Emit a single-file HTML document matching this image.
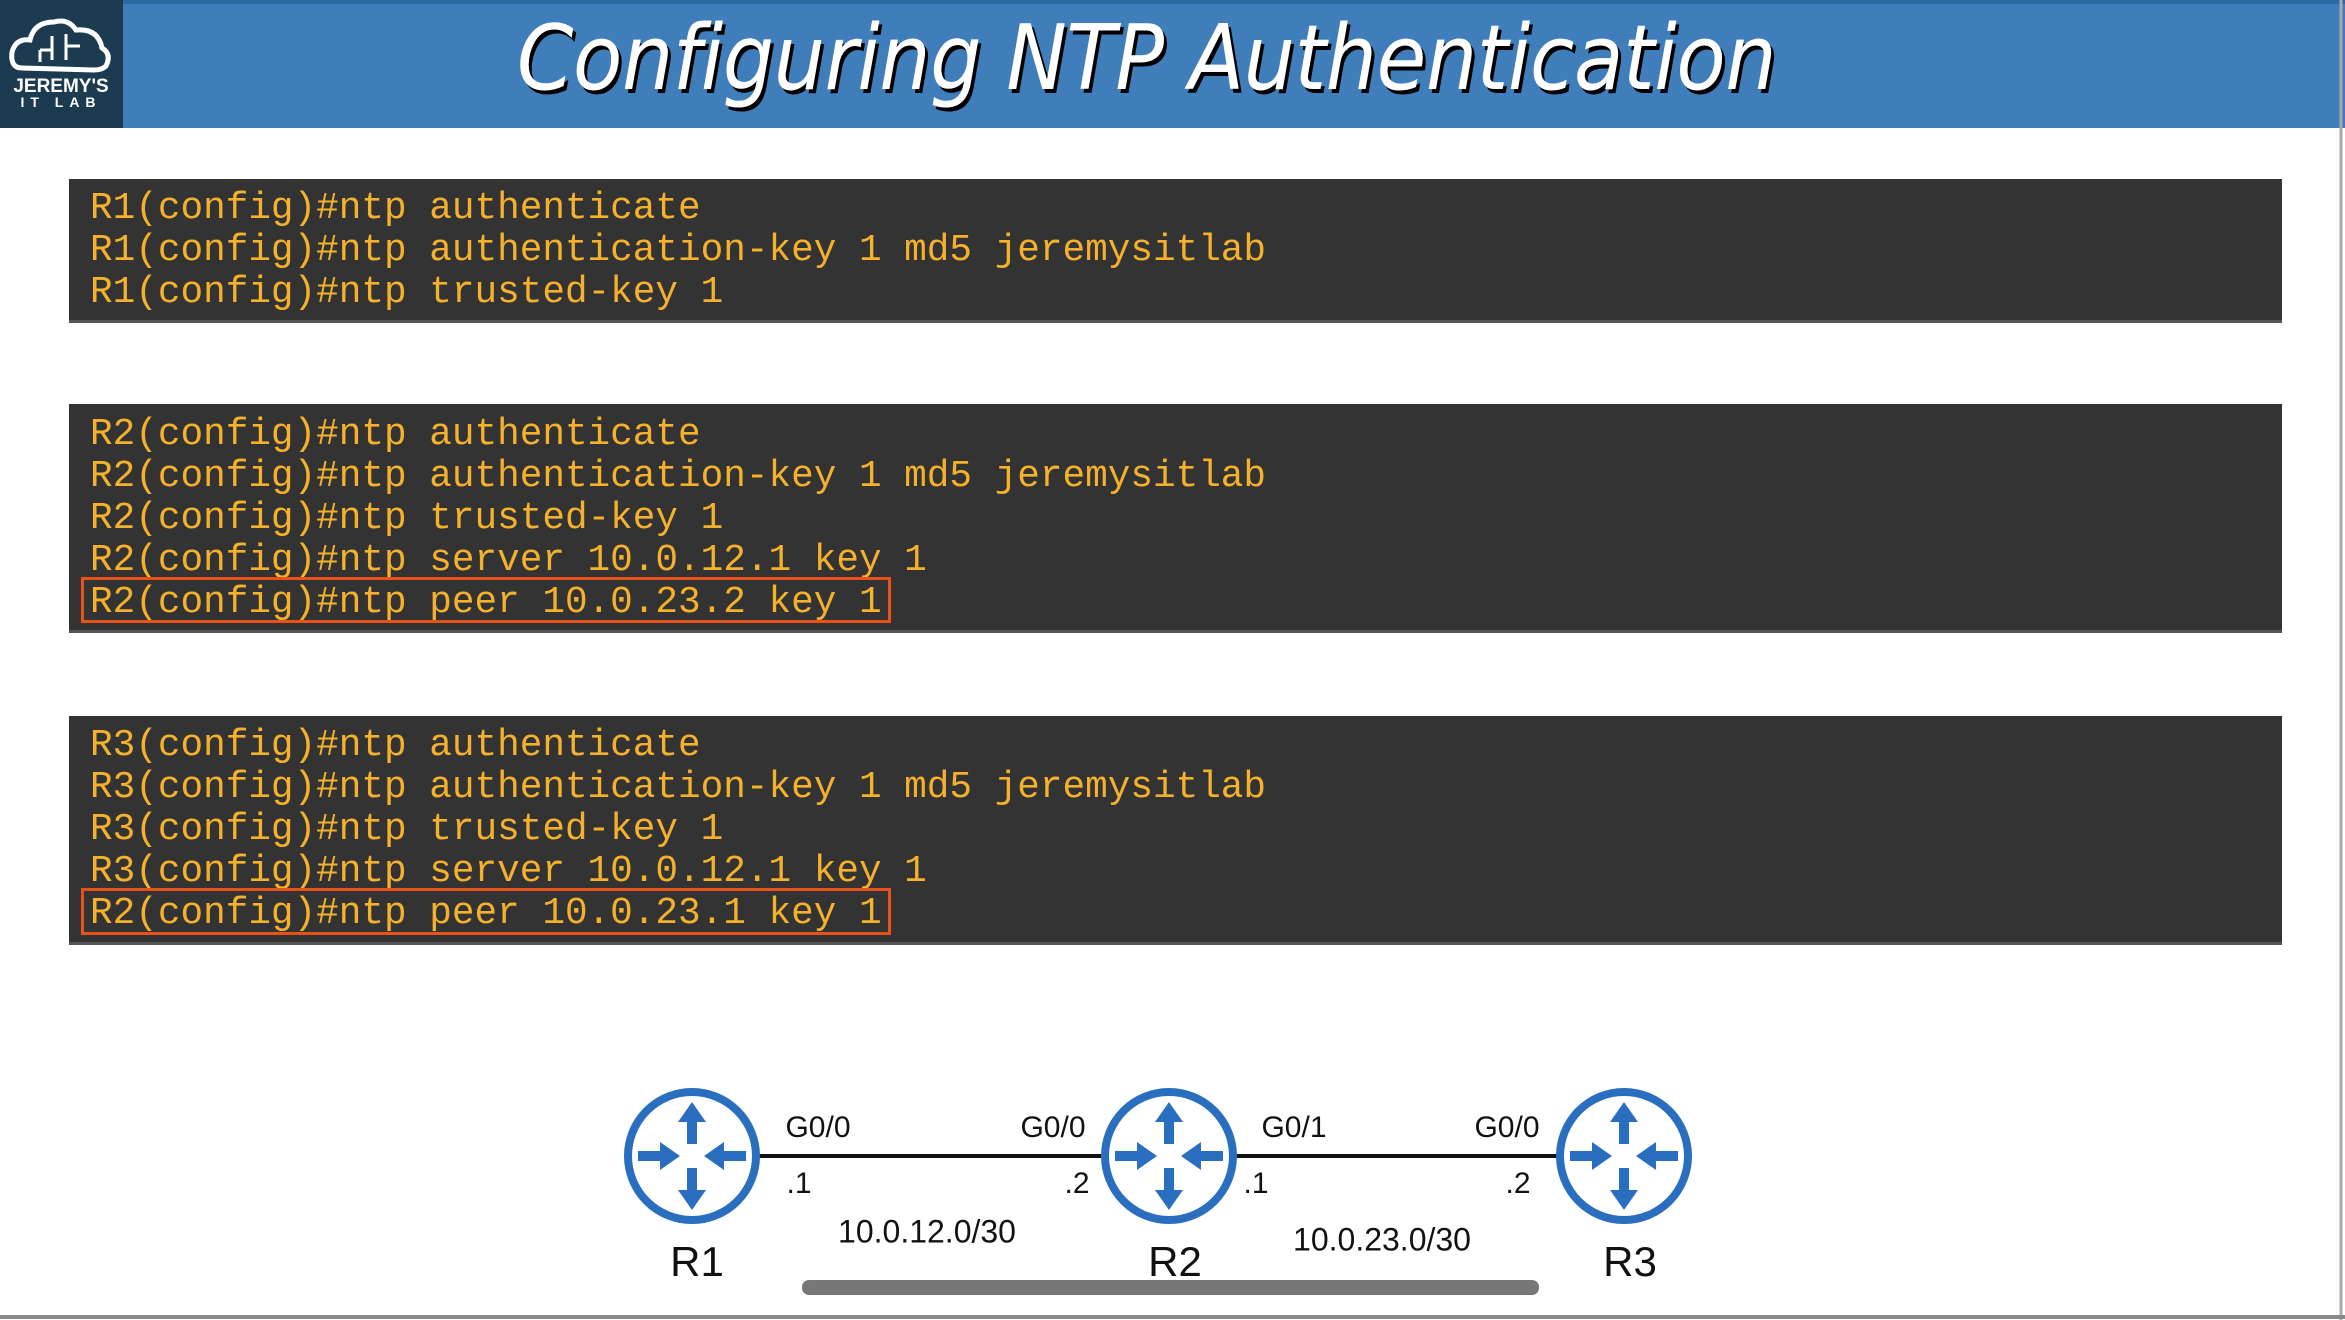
<!DOCTYPE html>
<html><head><meta charset="utf-8"><style>
*{margin:0;padding:0;box-sizing:border-box}
body{width:2345px;height:1320px;background:#fff;position:relative;overflow:hidden;font-family:"Liberation Sans",sans-serif}
.hdr{position:absolute;left:0;top:0;width:2345px;height:128px;background:#3f7dbb;border-top:4px solid #2b6aa3}
.logo{position:absolute;left:0;top:0;width:123px;height:128px;background:#1c3a50}
.title{position:absolute;left:-26px;top:6px;width:2345px;text-align:center;color:#fff;font-size:90px;font-style:italic;font-family:"DejaVu Sans Condensed","Liberation Sans",sans-serif;text-shadow:3px 4px 0 #000;letter-spacing:-0.5px}
.blk{position:absolute;left:69px;width:2213px;background:#333;border-bottom:3px solid #555}
.ln{position:absolute;left:90px;font-family:"Liberation Mono",monospace;font-size:37.7px;color:#f5b02c;white-space:pre;line-height:42px}
.box{position:absolute;left:81px;width:810px;border:3px solid #e8521a}
.lbl{position:absolute;font-size:30px;color:#111;transform:translate(-50%,-50%);white-space:nowrap}
</style></head><body>
<div class="hdr"></div>
<div class="logo">
<svg width="123" height="128" viewBox="0 0 123 128">
<path d="M22 68 Q10 68 12 52 Q16 38 30 40 Q34 22 54 22 Q68 18 76 30 Q98 28 102 48 Q112 54 106 66 Q102 70 94 70 Z" fill="none" stroke="#fff" stroke-width="5"/>
<path d="M40 62 V50 M52 60 V36 M66 60 V34 M66 46 H80 M40 50 H52" stroke="#fff" stroke-width="3" fill="none"/>
<text x="61" y="92" fill="#fff" font-size="19" font-weight="bold" text-anchor="middle" font-family="Liberation Sans">JEREMY'S</text>
<text x="61" y="107" fill="#fff" font-size="14" font-weight="bold" text-anchor="middle" letter-spacing="6" font-family="Liberation Sans">IT LAB</text>
</svg></div>
<div class="title">Configuring NTP Authentication</div>

<div class="blk" style="top:179px;height:144px"></div>
<div class="ln" style="top:188px">R1(config)#ntp authenticate
R1(config)#ntp authentication-key 1 md5 jeremysitlab
R1(config)#ntp trusted-key 1</div>

<div class="blk" style="top:404px;height:229px"></div>
<div class="ln" style="top:414px">R2(config)#ntp authenticate
R2(config)#ntp authentication-key 1 md5 jeremysitlab
R2(config)#ntp trusted-key 1
R2(config)#ntp server 10.0.12.1 key 1
R2(config)#ntp peer 10.0.23.2 key 1</div>
<div class="box" style="top:577px;height:46px"></div>

<div class="blk" style="top:716px;height:229px"></div>
<div class="ln" style="top:725px">R3(config)#ntp authenticate
R3(config)#ntp authentication-key 1 md5 jeremysitlab
R3(config)#ntp trusted-key 1
R3(config)#ntp server 10.0.12.1 key 1
R2(config)#ntp peer 10.0.23.1 key 1</div>
<div class="box" style="top:888px;height:47px"></div>

<svg style="position:absolute;left:0;top:0" width="2345" height="1320">
<defs>
<g id="rt">
<circle cx="0" cy="0" r="64" fill="#fff" stroke="#2a6ec0" stroke-width="8"/>
<g fill="#2a6ec0">
<rect x="-5" y="-36" width="10" height="24"/><polygon points="-14,-34 14,-34 0,-54"/>
<rect x="-5" y="12" width="10" height="24"/><polygon points="-14,34 14,34 0,54"/>
<rect x="-54" y="-5" width="24" height="10"/><polygon points="-32,-14 -32,14 -12,0"/>
<rect x="30" y="-5" width="24" height="10"/><polygon points="32,-14 32,14 12,0"/>
</g></g></defs>
<line x1="758" y1="1156" x2="1103" y2="1156" stroke="#111" stroke-width="4"/>
<line x1="1235" y1="1156" x2="1558" y2="1156" stroke="#111" stroke-width="4"/>
<use href="#rt" x="692" y="1156"/>
<use href="#rt" x="1169" y="1156"/>
<use href="#rt" x="1624" y="1156"/>
<rect x="802" y="1280" width="737" height="15" rx="7" fill="#777"/>
<line x1="2341" y1="0" x2="2341" y2="1320" stroke="#aaa" stroke-width="3"/>
<line x1="0" y1="1317" x2="2345" y2="1317" stroke="#888" stroke-width="4"/>
</svg>
<div class="lbl" style="left:818px;top:1128px">G0/0</div>
<div class="lbl" style="left:1053px;top:1128px">G0/0</div>
<div class="lbl" style="left:1294px;top:1128px">G0/1</div>
<div class="lbl" style="left:1507px;top:1128px">G0/0</div>
<div class="lbl" style="left:799px;top:1184px">.1</div>
<div class="lbl" style="left:1077px;top:1184px">.2</div>
<div class="lbl" style="left:1256px;top:1184px">.1</div>
<div class="lbl" style="left:1518px;top:1184px">.2</div>
<div class="lbl" style="left:927px;top:1232px;font-size:32px">10.0.12.0/30</div>
<div class="lbl" style="left:1382px;top:1240px;font-size:32px">10.0.23.0/30</div>
<div class="lbl" style="left:697px;top:1262px;font-size:42px">R1</div>
<div class="lbl" style="left:1175px;top:1262px;font-size:42px">R2</div>
<div class="lbl" style="left:1630px;top:1262px;font-size:42px">R3</div>
</body></html>
